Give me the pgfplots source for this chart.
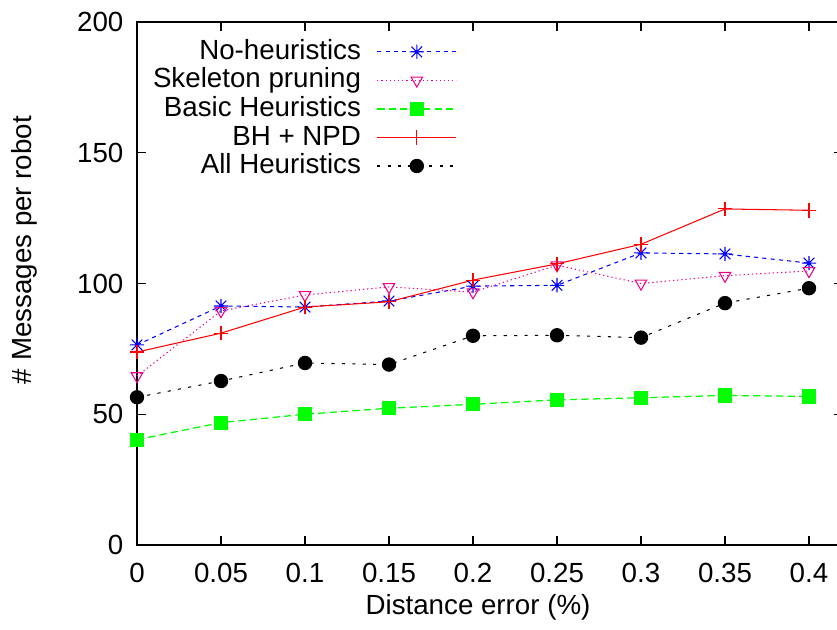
\documentclass[border=0pt]{standalone}
\usepackage{fontspec}
\setmainfont{Liberation Sans}
\usepackage{pgfplots}
\pgfplotsset{compat=1.18}

\definecolor{gpgreen}{RGB}{0,255,0}

% gnuplot-style star: plus and cross together
\pgfdeclareplotmark{gpstar}{%
  \pgfpathmoveto{\pgfqpoint{-\pgfplotmarksize}{0pt}}\pgfpathlineto{\pgfqpoint{\pgfplotmarksize}{0pt}}%
  \pgfpathmoveto{\pgfqpoint{0pt}{-\pgfplotmarksize}}\pgfpathlineto{\pgfqpoint{0pt}{\pgfplotmarksize}}%
  \pgfpathmoveto{\pgfqpoint{-0.75\pgfplotmarksize}{-0.75\pgfplotmarksize}}\pgfpathlineto{\pgfqpoint{0.75\pgfplotmarksize}{0.75\pgfplotmarksize}}%
  \pgfpathmoveto{\pgfqpoint{-0.75\pgfplotmarksize}{0.75\pgfplotmarksize}}\pgfpathlineto{\pgfqpoint{0.75\pgfplotmarksize}{-0.75\pgfplotmarksize}}%
  \pgfusepathqstroke}

\begin{document}
\begin{tikzpicture}
\begin{axis}[
    x=806.4pt, y=1.2552pt,
    scale only axis,
    xmin=0, xmax=0.42,
    ymin=0, ymax=200,
    xtick={0,0.05,0.1,0.15,0.2,0.25,0.3,0.35,0.4},
    xticklabels={0,0.05,0.1,0.15,0.2,0.25,0.3,0.35,0.4},
    ytick={0,50,100,150,200},
    tick align=inside,
    major tick length=4.3pt,
    tick style={black, line width=0.6pt},
    axis line style={line width=0.7pt},
    font=\fontsize{13.3}{15}\selectfont,
    tick label style={font=\fontsize{13.3}{15}\selectfont},
    xticklabel style={yshift=-5pt},
    yticklabel style={xshift=-3pt},
    /pgf/number format/assume math mode=true,
    xlabel={Distance error (\%)},
    ylabel={\# Messages per robot},
    every axis x label/.style={at={(rel axis cs:0.4833,0)}, anchor=center, yshift=-29.8pt},
    every axis y label/.style={at={(rel axis cs:0,0.564)}, anchor=center, xshift=-54.2pt, rotate=90},
    legend style={at={(rel axis cs:0.463,0.979)}, anchor=north east, draw=none, fill=none,
        font=\fontsize{13.3}{15}\selectfont, row sep=0pt,
        nodes={inner sep=0.5pt, text height=10pt, text depth=2.7pt}},
    legend cell align=right,
    legend plot pos=right,
    legend image code/.code={\path (0pt,0pt); \draw[mark repeat=2,mark phase=2,#1] plot coordinates {(7pt,0pt) (26pt,0pt) (45pt,0pt)};},
]
\coordinate (SW) at (rel axis cs:0,0);
\coordinate (NW) at (rel axis cs:0,1);

\addplot[blue, line width=0.5pt, dash pattern=on 2pt off 2pt, mark=gpstar, mark size=3.4pt, mark options={solid}] coordinates {
    (0,76.5) (0.05,91.4) (0.1,91) (0.15,93.3) (0.2,99) (0.25,99.3) (0.3,111.7) (0.35,111.3) (0.4,107.8)
};
\addlegendentry{No-heuristics}

\addplot[magenta, line width=0.5pt, dash pattern=on 0.6pt off 1.4pt, mark=triangle, mark size=3.2pt, mark options={solid, rotate=180}] coordinates {
    (0,64.6) (0.05,89.5) (0.1,95.6) (0.15,98.7) (0.2,96.7) (0.25,107) (0.3,100) (0.35,103) (0.4,104.8)
};
\addlegendentry{Skeleton pruning}

\addplot[gpgreen, line width=0.6pt, dash pattern=on 3.5pt off 2pt, mark=square*, mark size=3.1pt, mark options={solid, fill=gpgreen}] coordinates {
    (0,40.3) (0.05,46.8) (0.1,50) (0.15,52.3) (0.2,53.8) (0.25,55.5) (0.3,56.3) (0.35,57.2) (0.4,56.8)
};
\addlegendentry{Basic Heuristics}

\addplot[red, line width=0.5pt, mark=+, mark size=3.5pt] coordinates {
    (0,73.8) (0.05,81) (0.1,91) (0.15,93) (0.2,101.3) (0.25,107.5) (0.3,115) (0.35,128.5) (0.4,128)
};
\addlegendentry{BH + NPD}

\addplot[black, line width=0.5pt, dash pattern=on 1.5pt off 3.5pt, mark=*, mark size=3.2pt, mark options={solid}] coordinates {
    (0,56.5) (0.05,62.7) (0.1,69.6) (0.15,69) (0.2,80) (0.25,80.2) (0.3,79.3) (0.35,92.5) (0.4,98.2)
};
\addlegendentry{All Heuristics}
\end{axis}
\pgfresetboundingbox
\path[use as bounding box] ([xshift=-65.76pt,yshift=-40.8pt]SW) rectangle ([xshift=336pt,yshift=10.56pt]NW);
\end{tikzpicture}
\end{document}
